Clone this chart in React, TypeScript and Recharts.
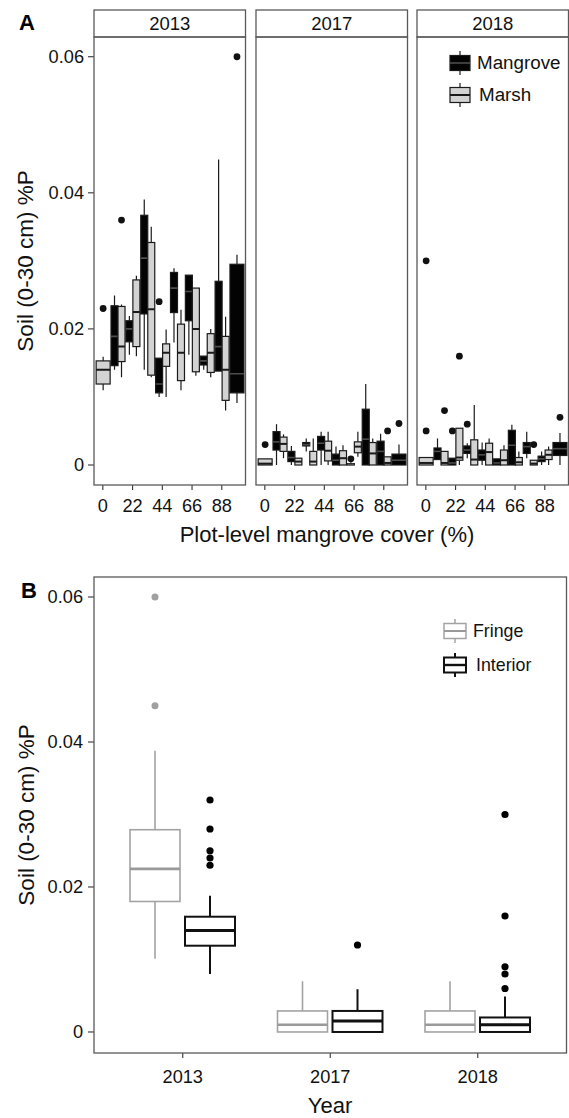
import React from 'react';
import { ComposedChart, Bar, XAxis, YAxis, Legend } from 'recharts';

const FONT = '"Liberation Sans", Arial, Helvetica, sans-serif';

// ---------------- Panel A data ----------------
const COVER_CLASSES = ['0', '11', '22', '33', '44', '55', '66', '77', '88', '99'];
const FACET_YEARS = ['2013', '2017', '2018'];

// [lower whisker, q1, median, q3, upper whisker]
const MANGROVE_2013 = [
  null,
  [0.014, 0.0146, 0.0189, 0.0234, 0.0249],
  [0.0162, 0.0181, 0.02, 0.0212, 0.0219],
  [0.014, 0.0222, 0.0304, 0.0367, 0.039],
  [0.01, 0.0106, 0.0119, 0.0157, 0.0157],
  [0.018, 0.0224, 0.026, 0.0283, 0.0289],
  [0.0162, 0.0212, 0.0255, 0.0279, 0.0279],
  [0.014, 0.0147, 0.0153, 0.016, 0.016],
  [0.0138, 0.0138, 0.0174, 0.027, 0.0449],
  [0.0091, 0.0106, 0.0134, 0.0295, 0.0309],
];
const MANGROVE_2013_OUT = [[], [], [], [], [0.024], [], [], [], [], [0.06]];
const MARSH_2013 = [
  [0.011, 0.0119, 0.014, 0.0153, 0.0159],
  [0.0129, 0.0152, 0.0174, 0.0233, 0.0236],
  [0.016, 0.0174, 0.0225, 0.0272, 0.0278],
  [0.0129, 0.0132, 0.0229, 0.0327, 0.035],
  [0.01, 0.0145, 0.0165, 0.0178, 0.0199],
  [0.011, 0.0124, 0.0165, 0.0207, 0.0228],
  [0.0131, 0.0137, 0.02, 0.026, 0.026],
  [0.0129, 0.0136, 0.0165, 0.0193, 0.02],
  [0.008, 0.0095, 0.014, 0.0189, 0.0218],
  null,
];
const MARSH_2013_OUT = [[0.023], [0.036], [], [], [], [], [], [], [], []];

const MANGROVE_2017 = [
  null,
  [0, 0.0022, 0.0034, 0.0049, 0.006],
  [0, 0.0005, 0.0011, 0.002, 0.0028],
  [0.002, 0.0028, 0.003, 0.0033, 0.0039],
  [0, 0.0022, 0.0032, 0.0042, 0.0049],
  [0, 0, 0.0007, 0.0016, 0.0027],
  [0, 0, 0.0001, 0.0002, 0.0004],
  [0, 0, 0.0038, 0.0082, 0.0119],
  [0, 0, 0.002, 0.0035, 0.0046],
  [0, 0, 0.0007, 0.0016, 0.003],
];
const MANGROVE_2017_OUT = [[], [], [], [], [], [], [0.0009], [], [], [0.0061]];
const MARSH_2017 = [
  [0, 0, 0.0002, 0.0009, 0.0009],
  [0.001, 0.002, 0.0031, 0.0041, 0.0045],
  [0, 0, 0.0005, 0.001, 0.001],
  [0, 0, 0.0005, 0.002, 0.0039],
  [0, 0.0006, 0.0021, 0.0035, 0.0049],
  [0, 0, 0.001, 0.0021, 0.0029],
  [0.0012, 0.0018, 0.0027, 0.0034, 0.0049],
  [0, 0, 0.0017, 0.0033, 0.0039],
  [0, 0, 0.0003, 0.0012, 0.0012],
  null,
];
const MARSH_2017_OUT = [[0.003], [], [], [], [], [], [], [], [0.005], []];

const MANGROVE_2018 = [
  null,
  [0.0008, 0.0008, 0.002, 0.0025, 0.0039],
  [0, 0, 0.0003, 0.001, 0.001],
  [0.001, 0.0017, 0.0022, 0.0028, 0.0032],
  [0, 0.0007, 0.0015, 0.0022, 0.0033],
  [0, 0, 0.0003, 0.0009, 0.0009],
  [0, 0, 0.0029, 0.0051, 0.0059],
  [0.001, 0.0017, 0.0027, 0.0033, 0.0049],
  [0, 0.0005, 0.0009, 0.0013, 0.002],
  [0, 0.0014, 0.0024, 0.0033, 0.0047],
];
const MANGROVE_2018_OUT = [[], [], [0.005], [0.006], [], [], [], [], [], [0.007]];
const MARSH_2018 = [
  [0, 0, 0.0003, 0.0011, 0.0011],
  [0, 0, 0.0003, 0.002, 0.002],
  [0, 0.0007, 0.0011, 0.0054, 0.0054],
  [0, 0, 0.0008, 0.0037, 0.0088],
  [0, 0, 0.0019, 0.0032, 0.0039],
  [0, 0, 0.0007, 0.0022, 0.0029],
  [0, 0, 0.0004, 0.0011, 0.002],
  [0, 0, 0.0002, 0.0007, 0.0007],
  [0, 0.0008, 0.0015, 0.0022, 0.0027],
  null,
];
const MARSH_2018_OUT = [[0.03, 0.005], [0.008], [0.016], [], [], [], [], [0.003], [], []];

const Y_TICKS = [0, 0.02, 0.04, 0.06];

// ---------------- Panel B data ----------------
const YEAR_CATS = ['2013', '2017', '2018'];
const FRINGE_STATS = [
  [0.0101, 0.018, 0.0225, 0.0279, 0.0388],
  [0, 0, 0.001, 0.0029, 0.007],
  [0, 0, 0.001, 0.0029, 0.007],
];
const FRINGE_OUT = [[0.06, 0.045], [], []];
const INTERIOR_STATS = [
  [0.008, 0.0119, 0.014, 0.0159, 0.0188],
  [0, 0, 0.0015, 0.0029, 0.0059],
  [0, 0, 0.001, 0.002, 0.0049],
];
const INTERIOR_OUT = [[0.032, 0.028, 0.025, 0.024, 0.023], [0.012], [0.03, 0.016, 0.009, 0.008, 0.006]];

// ---------------- helpers ----------------
function extentOf(stats: number[], out: number[]) {
  const all = [...stats, ...out];
  return [Math.min(...all), Math.max(...all)];
}

function facetRows(mg: any[], mgOut: number[][], ms: any[], msOut: number[][]) {
  return COVER_CLASSES.map((cover, i) => ({
    cover,
    mangrove: mg[i] ? { box: mg[i], out: mgOut[i] } : null,
    marsh: ms[i] ? { box: ms[i], out: msOut[i] } : null,
    mangroveRange: mg[i] ? extentOf(mg[i], mgOut[i]) : null,
    marshRange: ms[i] ? extentOf(ms[i], msOut[i]) : null,
  }));
}

const FACET_DATA = [
  facetRows(MANGROVE_2013, MANGROVE_2013_OUT, MARSH_2013, MARSH_2013_OUT),
  facetRows(MANGROVE_2017, MANGROVE_2017_OUT, MARSH_2017, MARSH_2017_OUT),
  facetRows(MANGROVE_2018, MANGROVE_2018_OUT, MARSH_2018, MARSH_2018_OUT),
];

const B_ROWS = YEAR_CATS.map((year, i) => ({
  year,
  fringe: { box: FRINGE_STATS[i], out: FRINGE_OUT[i] },
  interior: { box: INTERIOR_STATS[i], out: INTERIOR_OUT[i] },
  fringeRange: extentOf(FRINGE_STATS[i], FRINGE_OUT[i]),
  interiorRange: extentOf(INTERIOR_STATS[i], INTERIOR_OUT[i]),
}));

type BoxStyle = {
  fill: string;
  stroke: string;
  sw: number;
  median: string;
  msw: number;
  dot: string;
  r: number;
};

function makeShape(key: string, rangeKey: string, st: BoxStyle, otherKey?: string, side?: 'left' | 'right') {
  return (props: any) => {
    const { x, y, width, height, payload } = props;
    const s = payload && payload[key];
    const rg = payload && payload[rangeKey];
    if (!s || !rg || width == null) return <g />;
    const top = Math.min(y, y + height);
    const bot = Math.max(y, y + height);
    const [vLo, vHi] = rg;
    const py = (v: number) => (vHi === vLo ? top : top + ((vHi - v) / (vHi - vLo)) * (bot - top));
    let bx = x;
    let bw = width;
    if (otherKey && !payload[otherKey]) {
      bw = width * 2;
      if (side === 'right') bx = x - width;
    }
    const cx = bx + bw / 2;
    const [lo, q1, med, q3, hi] = s.box;
    return (
      <g>
        <line x1={cx} x2={cx} y1={py(hi)} y2={py(q3)} stroke={st.stroke} strokeWidth={st.sw} />
        <line x1={cx} x2={cx} y1={py(q1)} y2={py(lo)} stroke={st.stroke} strokeWidth={st.sw} />
        <rect x={bx} y={py(q3)} width={bw} height={Math.max(0, py(q1) - py(q3))} fill={st.fill} stroke={st.stroke} strokeWidth={st.sw} />
        <line x1={bx} x2={bx + bw} y1={py(med)} y2={py(med)} stroke={st.median} strokeWidth={st.msw} />
        {s.out.map((o: number, k: number) => (
          <circle key={k} cx={cx} cy={py(o)} r={st.r} fill={st.dot} />
        ))}
      </g>
    );
  };
}

const MANGROVE_STYLE: BoxStyle = { fill: '#030303', stroke: '#1a1a1a', sw: 1.2, median: '#4d4d4d', msw: 1.6, dot: '#111', r: 3.4 };
const MARSH_STYLE: BoxStyle = { fill: '#d3d3d3', stroke: '#1a1a1a', sw: 1.2, median: '#1a1a1a', msw: 2, dot: '#111', r: 3.4 };
const FRINGE_STYLE: BoxStyle = { fill: '#ffffff', stroke: '#a3a3a3', sw: 1.6, median: '#9a9a9a', msw: 2.6, dot: '#a0a0a0', r: 3.5 };
const INTERIOR_STYLE: BoxStyle = { fill: '#ffffff', stroke: '#111111', sw: 2, median: '#111111', msw: 3, dot: '#000000', r: 3.6 };

const mangroveShape = makeShape('mangrove', 'mangroveRange', MANGROVE_STYLE, 'marsh', 'left');
const marshShape = makeShape('marsh', 'marshRange', MARSH_STYLE, 'mangrove', 'right');
const fringeShape = makeShape('fringe', 'fringeRange', FRINGE_STYLE);
const interiorShape = makeShape('interior', 'interiorRange', INTERIOR_STYLE);

const fmtY = (v: number) => (v === 0 ? '0' : String(v));
const TICK_STYLE = { fontSize: 18.2, fill: '#111', fontFamily: FONT };

function IconBox({ fill, stroke, median, w, sw, msw }: any) {
  return (
    <svg width={w + 2} height={26} style={{ display: 'block' }}>
      <line x1={(w + 2) / 2} x2={(w + 2) / 2} y1={1} y2={25} stroke={stroke} strokeWidth={sw} />
      <rect x={1} y={5.5} width={w} height={15} fill={fill} stroke={stroke} strokeWidth={sw} />
      <line x1={1} x2={w + 1} y1={13} y2={13} stroke={median} strokeWidth={msw} />
    </svg>
  );
}

const legendA = () => (
  <div style={{ fontFamily: FONT, fontSize: 18.8, color: '#111' }}>
    <div style={{ display: 'flex', alignItems: 'center', height: 32, whiteSpace: 'nowrap' }}>
      <IconBox fill="#030303" stroke="#1a1a1a" median="#4d4d4d" w={20} sw={1.2} msw={1.6} />
      <span style={{ marginLeft: 6 }}>Mangrove</span>
    </div>
    <div style={{ display: 'flex', alignItems: 'center', height: 32, whiteSpace: 'nowrap' }}>
      <IconBox fill="#d3d3d3" stroke="#1a1a1a" median="#1a1a1a" w={20} sw={1.2} msw={2} />
      <span style={{ marginLeft: 8 }}>Marsh</span>
    </div>
  </div>
);

const legendB = () => (
  <div style={{ fontFamily: FONT, fontSize: 17.8, color: '#111' }}>
    <div style={{ display: 'flex', alignItems: 'center', height: 34, whiteSpace: 'nowrap' }}>
      <IconBox fill="#fff" stroke="#a3a3a3" median="#9a9a9a" w={22} sw={1.5} msw={2} />
      <span style={{ marginLeft: 6 }}>Fringe</span>
    </div>
    <div style={{ display: 'flex', alignItems: 'center', height: 34, whiteSpace: 'nowrap' }}>
      <IconBox fill="#fff" stroke="#111" median="#111" w={22} sw={2} msw={2.4} />
      <span style={{ marginLeft: 9 }}>Interior</span>
    </div>
  </div>
);

// ---------------- layout ----------------
const A_TOP = 37;
const A_PLOT_H = 448;
const A_DOMAIN = [-0.00294, 0.0629];
const FACET_LEFTS = [94, 256, 417];
const FACET_W = 151.5;

const B_TOP = 577;
const B_PLOT_H = 476;
const B_DOMAIN = [-0.0029, 0.06276];
const B_LEFT = 94;
const B_RIGHT = 566.5;

function Facet({ idx }: { idx: number }) {
  const showY = idx === 0;
  const width = FACET_W + (showY ? 94 : 0);
  const left = FACET_LEFTS[idx] - (showY ? 94 : 0);
  return (
    <div style={{ position: 'absolute', left, top: A_TOP }}>
      <ComposedChart
        width={width}
        height={A_PLOT_H + 40}
        data={FACET_DATA[idx]}
        margin={{ top: 0, right: 0, bottom: 0, left: 0 }}
        barGap={0}
        barCategoryGap="5%"
      >
        <XAxis
          dataKey="cover"
          type="category"
          interval={1}
          height={40}
          axisLine={false}
          tickSize={5}
          tickMargin={9}
          tickLine={{ stroke: '#333', strokeWidth: 1.1 }}
          tick={TICK_STYLE}
          padding={{ left: 1.4, right: 1.4 }}
        />
        <YAxis
          type="number"
          domain={A_DOMAIN}
          allowDataOverflow
          ticks={Y_TICKS}
          tickFormatter={fmtY}
          hide={!showY}
          width={94}
          axisLine={false}
          tickSize={6}
          tickMargin={4}
          tickLine={{ stroke: '#333', strokeWidth: 1.1 }}
          tick={TICK_STYLE}
        />
        <Bar dataKey="mangroveRange" name="Mangrove" shape={mangroveShape} isAnimationActive={false} />
        <Bar dataKey="marshRange" name="Marsh" shape={marshShape} isAnimationActive={false} />
        {idx === 2 && (
          <Legend
            layout="vertical"
            align="center"
            verticalAlign="middle"
            content={legendA}
            wrapperStyle={{ left: 32, top: 10, width: 130 }}
          />
        )}
      </ComposedChart>
    </div>
  );
}

function PanelB() {
  return (
    <div style={{ position: 'absolute', left: 0, top: B_TOP }}>
      <ComposedChart
        width={B_RIGHT}
        height={B_PLOT_H + 60}
        data={B_ROWS}
        margin={{ top: 0, right: 0, bottom: 0, left: 0 }}
        barGap={5}
        barCategoryGap={21}
      >
        <XAxis
          dataKey="year"
          type="category"
          height={60}
          axisLine={false}
          tickSize={5}
          tickMargin={12}
          tickLine={{ stroke: '#333', strokeWidth: 1.1 }}
          tick={TICK_STYLE}
          padding={{ left: 15, right: 15 }}
        />
        <YAxis
          type="number"
          domain={B_DOMAIN}
          allowDataOverflow
          ticks={Y_TICKS}
          tickFormatter={fmtY}
          width={B_LEFT}
          axisLine={false}
          tickSize={6}
          tickMargin={5}
          tickLine={{ stroke: '#333', strokeWidth: 1.1 }}
          tick={TICK_STYLE}
        />
        <Bar dataKey="fringeRange" name="Fringe" shape={fringeShape} isAnimationActive={false} />
        <Bar dataKey="interiorRange" name="Interior" shape={interiorShape} isAnimationActive={false} />
        <Legend
          layout="vertical"
          align="center"
          verticalAlign="middle"
          content={legendB}
          wrapperStyle={{ left: 443, top: 37, width: 120 }}
        />
      </ComposedChart>
    </div>
  );
}

function Overlay() {
  const border = '#595959';
  return (
    <svg
      width={569}
      height={1118}
      style={{ position: 'absolute', left: 0, top: 0, pointerEvents: 'none' }}
      fontFamily={FONT}
    >
      <text x={19} y={30} fontSize={22} fontWeight="bold" fill="#000">A</text>
      {FACET_YEARS.map((yr, i) => {
        const x0 = FACET_LEFTS[i];
        return (
          <g key={yr}>
            <rect x={x0} y={10} width={FACET_W} height={A_TOP - 10} fill="#fff" stroke={border} strokeWidth={1.3} />
            <text x={x0 + FACET_W / 2} y={30} fontSize={18.5} textAnchor="middle" fill="#111">{yr}</text>
            <rect x={x0} y={A_TOP} width={FACET_W} height={A_PLOT_H} fill="none" stroke={border} strokeWidth={1.3} />
          </g>
        );
      })}
      <text x={33} y={A_TOP + A_PLOT_H / 2} fontSize={22.5} textAnchor="middle" fill="#111" transform={`rotate(-90 33 ${A_TOP + A_PLOT_H / 2})`}>
        Soil (0-30 cm) %P
      </text>
      <text x={327} y={542} fontSize={22} textAnchor="middle" fill="#111">Plot-level mangrove cover (%)</text>

      <text x={21} y={598} fontSize={22} fontWeight="bold" fill="#000">B</text>
      <rect x={B_LEFT} y={B_TOP} width={B_RIGHT - B_LEFT} height={B_PLOT_H} fill="none" stroke={border} strokeWidth={1.3} />
      <text x={34} y={B_TOP + B_PLOT_H / 2} fontSize={22.5} textAnchor="middle" fill="#111" transform={`rotate(-90 34 ${B_TOP + B_PLOT_H / 2})`}>
        Soil (0-30 cm) %P
      </text>
      <text x={330} y={1113} fontSize={22} textAnchor="middle" fill="#111">Year</text>
    </svg>
  );
}

export default function App() {
  return (
    <div style={{ position: 'absolute', left: 0, top: 0, width: 569, height: 1118, background: '#fff', fontFamily: FONT }}>
      <Facet idx={0} />
      <Facet idx={1} />
      <Facet idx={2} />
      <PanelB />
      <Overlay />
    </div>
  );
}
